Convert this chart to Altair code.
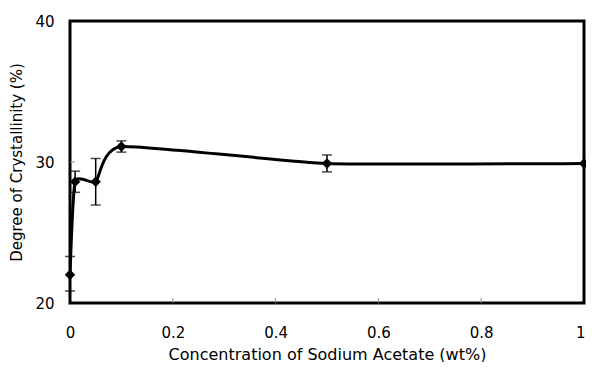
import altair as alt
import pandas as pd

conc = [0.0, 0.01, 0.05, 0.1, 0.5, 1.0]
cryst = [22.0, 28.6, 28.6, 31.1, 29.9, 29.9]
err_lo = [20.85, 27.85, 26.95, 30.7, 29.3, 29.9]
err_hi = [23.3, 29.35, 30.25, 31.5, 30.5, 29.9]

x_ticks = [0.2, 0.4, 0.6, 0.8]
y_ticks = [30]

df = pd.DataFrame({"x": conc, "y": cryst, "lo": err_lo, "hi": err_hi})
dfe = df.iloc[:5]

FONT = "DejaVu Sans"
W, H = 514, 282

xs = alt.Scale(domain=[0, 1], nice=False, zero=False)
ys = alt.Scale(domain=[20, 40], nice=False, zero=False)

xax = alt.Axis(values=[0, 0.2, 0.4, 0.6, 0.8, 1], format="~g", ticks=False, grid=False,
               domain=False, labelPadding=22, labelFontSize=15, labelFont=FONT,
               labelColor="black", title="Concentration of Sodium Acetate (wt%)",
               titleFont=FONT, titleFontSize=16, titleFontWeight="normal",
               titleColor="black", titlePadding=6, labelFlush=False,
               labelAlign=alt.condition("datum.value == 1", alt.value("right"), alt.value("center")),
               labelOffset=alt.condition("datum.value == 1", alt.value(1), alt.value(0)))
yax = alt.Axis(values=[20, 30, 40], ticks=False, grid=False, domain=False,
               labelPadding=16, labelFontSize=15, labelFont=FONT, labelColor="black",
               title="Degree of Crystallinity (%)", titleFont=FONT, titleFontSize=15,
               titleFontWeight="normal", titleColor="black", titlePadding=10)

base = alt.Chart(df)

line = base.mark_line(interpolate="cardinal", tension=0.5, color="black", strokeWidth=3, clip=True).encode(
    x=alt.X("x:Q", scale=xs, axis=xax),
    y=alt.Y("y:Q", scale=ys, axis=yax),
)

bars = alt.Chart(dfe).mark_rule(color="black", strokeWidth=1.5).encode(
    x=alt.X("x:Q", scale=xs), y=alt.Y("lo:Q", scale=ys), y2="hi:Q")
cap_lo = alt.Chart(dfe).mark_tick(color="black", thickness=1.5, size=10, orient="horizontal").encode(
    x=alt.X("x:Q", scale=xs), y=alt.Y("lo:Q", scale=ys))
cap_hi = alt.Chart(dfe).mark_tick(color="black", thickness=1.5, size=10, orient="horizontal").encode(
    x=alt.X("x:Q", scale=xs), y=alt.Y("hi:Q", scale=ys))

pts = base.mark_point(shape="diamond", filled=True, color="black", size=110, opacity=1).encode(
    x=alt.X("x:Q", scale=xs), y=alt.Y("y:Q", scale=ys))

xt = alt.Chart(pd.DataFrame({"x": x_ticks})).mark_rule(color="#888888", strokeWidth=1).encode(
    x=alt.X("x:Q", scale=xs), y=alt.value(H), y2=alt.value(H - 5))
yt = alt.Chart(pd.DataFrame({"y": y_ticks})).mark_rule(color="#888888", strokeWidth=1).encode(
    y=alt.Y("y:Q", scale=ys), x=alt.value(0), x2=alt.value(5))

chart = alt.layer(xt, yt, line, bars, cap_lo, cap_hi, pts).properties(
    width=W, height=H,
    autosize=alt.AutoSizeParams(type="none"),
    padding={"left": 62, "top": 13, "right": 2, "bottom": 59},
    background="white",
).configure_view(stroke="black", strokeWidth=3)

chart.save("out.html", embed_options={"renderer": "svg", "actions": False})
